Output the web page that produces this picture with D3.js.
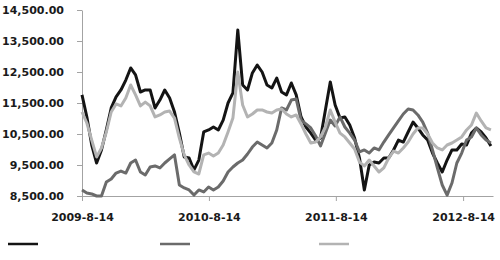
<!DOCTYPE html>
<html>
<head>
<meta charset="utf-8">
<script src="https://cdn.jsdelivr.net/npm/d3@7"></script>
<style>
  body { margin: 0; background: #fff; }
  svg text { font-family: "DejaVu Sans", Verdana, sans-serif; font-weight: bold; font-size: 11px; fill: #1a1a1a; }
</style>
</head>
<body>
<div id="chart"></div>
<script>
// fortnightly closing values
const dates = [
  "2009-08-14","2009-08-28","2009-09-11","2009-09-25","2009-10-09","2009-10-23","2009-11-06","2009-11-20","2009-12-04","2009-12-18",
  "2010-01-01","2010-01-15","2010-01-29","2010-02-12","2010-02-26","2010-03-12","2010-03-26","2010-04-09","2010-04-23","2010-05-07",
  "2010-05-21","2010-06-04","2010-06-18","2010-07-02","2010-07-16","2010-07-30","2010-08-13","2010-08-27","2010-09-10","2010-09-24",
  "2010-10-08","2010-10-22","2010-11-05","2010-11-19","2010-12-03","2010-12-17","2010-12-31","2011-01-14","2011-01-28","2011-02-11",
  "2011-02-25","2011-03-11","2011-03-25","2011-04-08","2011-04-22","2011-05-06","2011-05-20","2011-06-03","2011-06-17","2011-07-01",
  "2011-07-15","2011-07-29","2011-08-12","2011-08-26","2011-09-09","2011-09-23","2011-10-07","2011-10-21","2011-11-04","2011-11-18",
  "2011-12-02","2011-12-16","2011-12-30","2012-01-13","2012-01-27","2012-02-10","2012-02-24","2012-03-09","2012-03-23","2012-04-06",
  "2012-04-20","2012-05-04","2012-05-18","2012-06-01","2012-06-15","2012-06-29","2012-07-13","2012-07-27","2012-08-10","2012-08-24",
  "2012-09-07","2012-09-21","2012-10-05","2012-10-19","2012-11-02"
];

const series1 = [
  11760, 11050, 10145, 9565, 9985, 10630, 11340, 11695, 11920, 12240,
  12630, 12405, 11855, 11920, 11920, 11340, 11595, 11920, 11660, 11210,
  10530, 9760, 9725, 9340, 9660, 10565, 10630, 10725, 10630, 10950,
  11500, 11825, 13855, 12080, 11920, 12470, 12725, 12500, 12080, 11985,
  12305, 11855, 11760, 12145, 11760, 11050, 10725, 10530, 10305, 10370,
  11275, 12180, 11435, 11015, 11050, 10790, 10370, 9725, 8695, 9500,
  9595, 9565, 9725, 9725, 9985, 10305, 10240, 10565, 10885, 10695,
  10470, 10305, 9885, 9565, 9275, 9660, 9985, 9985, 10175, 10145,
  10530, 10695, 10565, 10370, 10115
];

const series2 = [
  8695, 8595, 8565, 8500, 8500, 8950, 9050, 9240, 9305, 9240,
  9565, 9660, 9275, 9180, 9435, 9470, 9405, 9565, 9695, 9825,
  8855, 8760, 8695, 8530, 8695, 8630, 8790, 8695, 8790, 8985,
  9275, 9435, 9565, 9660, 9855, 10080, 10240, 10145, 10050, 10210,
  10630, 11340, 11275, 11595, 11630, 10950, 10825, 10695, 10435, 10115,
  10530, 10950, 10760, 11050, 10725, 10530, 10305, 9920, 9985, 9885,
  10050, 9985, 10240, 10470, 10695, 10920, 11145, 11305, 11275, 11115,
  10885, 10530, 9985, 9405, 8855, 8530, 8920, 9565, 9885, 10305,
  10405, 10695, 10470, 10305, 10210
];

const series3 = [
  11210, 10855, 10305, 9760, 10050, 10565, 11210, 11470, 11405, 11660,
  12080, 11760, 11405, 11530, 11405, 11050, 11115, 11210, 11240, 11015,
  10370, 9825, 9500, 9275, 9210, 9825, 9885, 9790, 9885, 10145,
  10565, 11015, 12500, 11435, 11050, 11145, 11275, 11275, 11210, 11175,
  11275, 11305, 11145, 11050, 11115, 10825, 10500, 10210, 10240, 10405,
  10725, 11275, 10885, 10530, 10405, 10210, 10015, 9595, 9470, 9660,
  9470, 9275, 9405, 9725, 9950, 9885, 10050, 10240, 10500, 10695,
  10695, 10500, 10210, 10050, 9985, 10145, 10210, 10305, 10405, 10630,
  10790, 11175, 10920, 10695, 10630
];

const yTicks = [8500, 9500, 10500, 11500, 12500, 13500, 14500];
const xTicks = ["2009-08-14", "2010-08-14", "2011-08-14", "2012-08-14"];
const xTickLabels = ["2009-8-14", "2010-8-14", "2011-8-14", "2012-8-14"];
const xStart = "2009-08-14", xEnd = "2012-11-08";

const width = 500, height = 260;
const margin = { top: 10, left: 82, right: 7, bottom: 64 };

const parse = d3.timeParse("%Y-%m-%d");

const svg = d3.select("#chart").append("svg")
  .attr("width", width)
  .attr("height", height);

const x = d3.scaleTime()
  .domain([parse(xStart), parse(xEnd)])
  .range([margin.left, width - margin.right]);

const y = d3.scaleLinear()
  .domain([8500, 14500])
  .range([height - margin.bottom, margin.top]);

// axes
const yAxis = svg.append("g")
  .attr("transform", `translate(${margin.left},0)`)
  .call(d3.axisLeft(y)
    .tickValues(yTicks)
    .tickFormat(d3.format(",.2f"))
    .tickSize(5)
    .tickSizeOuter(0)
    .tickPadding(13));

const xAxis = svg.append("g")
  .attr("transform", `translate(0,${height - margin.bottom})`)
  .call(d3.axisBottom(x)
    .tickValues(xTicks.map(parse))
    .tickFormat((d, i) => xTickLabels[i])
    .tickSize(5)
    .tickSizeOuter(0)
    .tickPadding(12));

svg.selectAll(".domain, .tick line").attr("stroke", "#a3a3a3");
svg.selectAll(".tick text").attr("fill", "#1a1a1a");

// lines
const series = [
  { values: series1, color: "#141414" },
  { values: series2, color: "#6b6b6b" },
  { values: series3, color: "#b3b3b3" }
];

const line = d3.line()
  .x((d, i) => x(parse(dates[i])))
  .y(d => y(d));

svg.selectAll(".series")
  .data(series)
  .enter()
  .append("path")
  .attr("class", "series")
  .attr("d", d => line(d.values))
  .attr("fill", "none")
  .attr("stroke", d => d.color)
  .attr("stroke-width", 3)
  .attr("stroke-linejoin", "round");

// legend swatches (labels are blank in the original)
const legendX = [8, 160, 319];
svg.selectAll(".swatch")
  .data(series)
  .enter()
  .append("line")
  .attr("class", "swatch")
  .attr("x1", (d, i) => legendX[i])
  .attr("x2", (d, i) => legendX[i] + 30)
  .attr("y1", 244)
  .attr("y2", 244)
  .attr("stroke", d => d.color)
  .attr("stroke-width", 2.5);
</script>
</body>
</html>
